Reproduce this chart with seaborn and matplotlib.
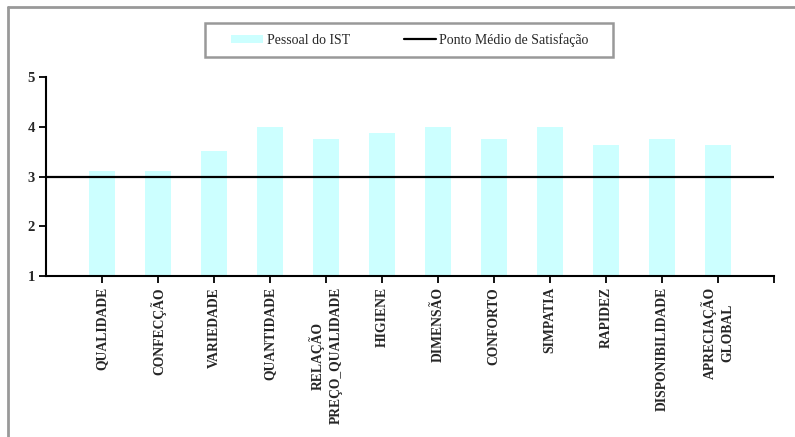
import matplotlib
matplotlib.use("Agg")
import matplotlib.pyplot as plt
from matplotlib.lines import Line2D
from matplotlib.patches import Patch, Rectangle
import seaborn as sns
import pandas as pd

categories = [
    "QUALIDADE", "CONFECÇÃO", "VARIEDADE", "QUANTIDADE",
    "RELAÇÃO\nPREÇO_QUALIDADE", "HIGIENE", "DIMENSÃO", "CONFORTO",
    "SIMPATIA", "RAPIDEZ", "DISPONIBILIDADE", "APRECIAÇÃO\nGLOBAL",
]
pessoal_ist = [3.11, 3.11, 3.51, 4.0, 3.75, 3.87, 4.0, 3.75, 4.0, 3.63, 3.75, 3.63]
ponto_medio = 3
y_ticks = [1, 2, 3, 4, 5]

series_name = "Pessoal do IST"
line_name = "Ponto Médio de Satisfação"

sns.set_theme(style="white")
plt.rcParams["font.family"] = ["Liberation Serif", "DejaVu Serif"]

df = pd.DataFrame({"categoria": categories, "valor": pessoal_ist})

W, H = 795, 437
fig = plt.figure(figsize=(W / 100, H / 100), dpi=100)
ax = fig.add_axes([46 / W, 161 / H, 728 / W, 199 / H])

bar_color = "#CCFFFF"
sns.barplot(data=df, x="categoria", y="valor", color=bar_color, width=0.45,
            saturation=1, ax=ax)
# bars start at the axis floor (1)
for patch, v in zip(ax.patches, pessoal_ist):
    patch.set_y(1)
    patch.set_height(v - 1)
    patch.set_edgecolor("none")

ax.axhline(ponto_medio, color="black", lw=1.6, zorder=3)

ax.set_ylim(1, 5)
ax.set_yticks(y_ticks)
ax.set_yticklabels([str(t) for t in y_ticks], fontsize=10.5, fontweight="bold")
ax.set_xlim(-1, len(categories))
ax.set_xticks(range(len(categories) + 1))
ax.set_xticklabels(categories + [""], rotation=90, fontsize=9.8,
                   fontweight="bold", va="top", ha="center",
                   multialignment="center", linespacing=1.45)
ax.set_xlabel("")
ax.set_ylabel("")

for side in ("top", "right"):
    ax.spines[side].set_visible(False)
for side in ("left", "bottom"):
    ax.spines[side].set_color("black")
    ax.spines[side].set_linewidth(1.5)
ax.tick_params(axis="both", which="both", direction="out", length=5,
               width=1.3, color="black", bottom=True, left=True, pad=3)
ax.grid(False)

# legend box
fig.add_artist(Rectangle((205 / W, 1 - 57 / H), 408 / W, 34 / H,
                         transform=fig.transFigure, facecolor="white",
                         edgecolor="#999999", lw=1.8, zorder=5))
handles = [Patch(facecolor=bar_color, edgecolor="none"),
           Line2D([0], [0], color="black", lw=1.6)]
leg = fig.legend(handles, [series_name, line_name], ncol=2,
                 loc="center", bbox_to_anchor=(410 / W, 1 - 40 / H),
                 fontsize=10, frameon=False,
                 handlelength=2.3, handleheight=0.6, columnspacing=3.9,
                 handletextpad=0.25, borderpad=0, borderaxespad=0)
leg.set_zorder(6)

# outer chart frame (top and left edges)
fig.add_artist(Line2D([8 / W, 8 / W], [0, 1 - 7 / H],
                      color="#999999", lw=2, transform=fig.transFigure))
fig.add_artist(Line2D([8 / W, 1], [1 - 7 / H, 1 - 7 / H],
                      color="#999999", lw=2, transform=fig.transFigure))

fig.savefig("out.png", dpi=100)
